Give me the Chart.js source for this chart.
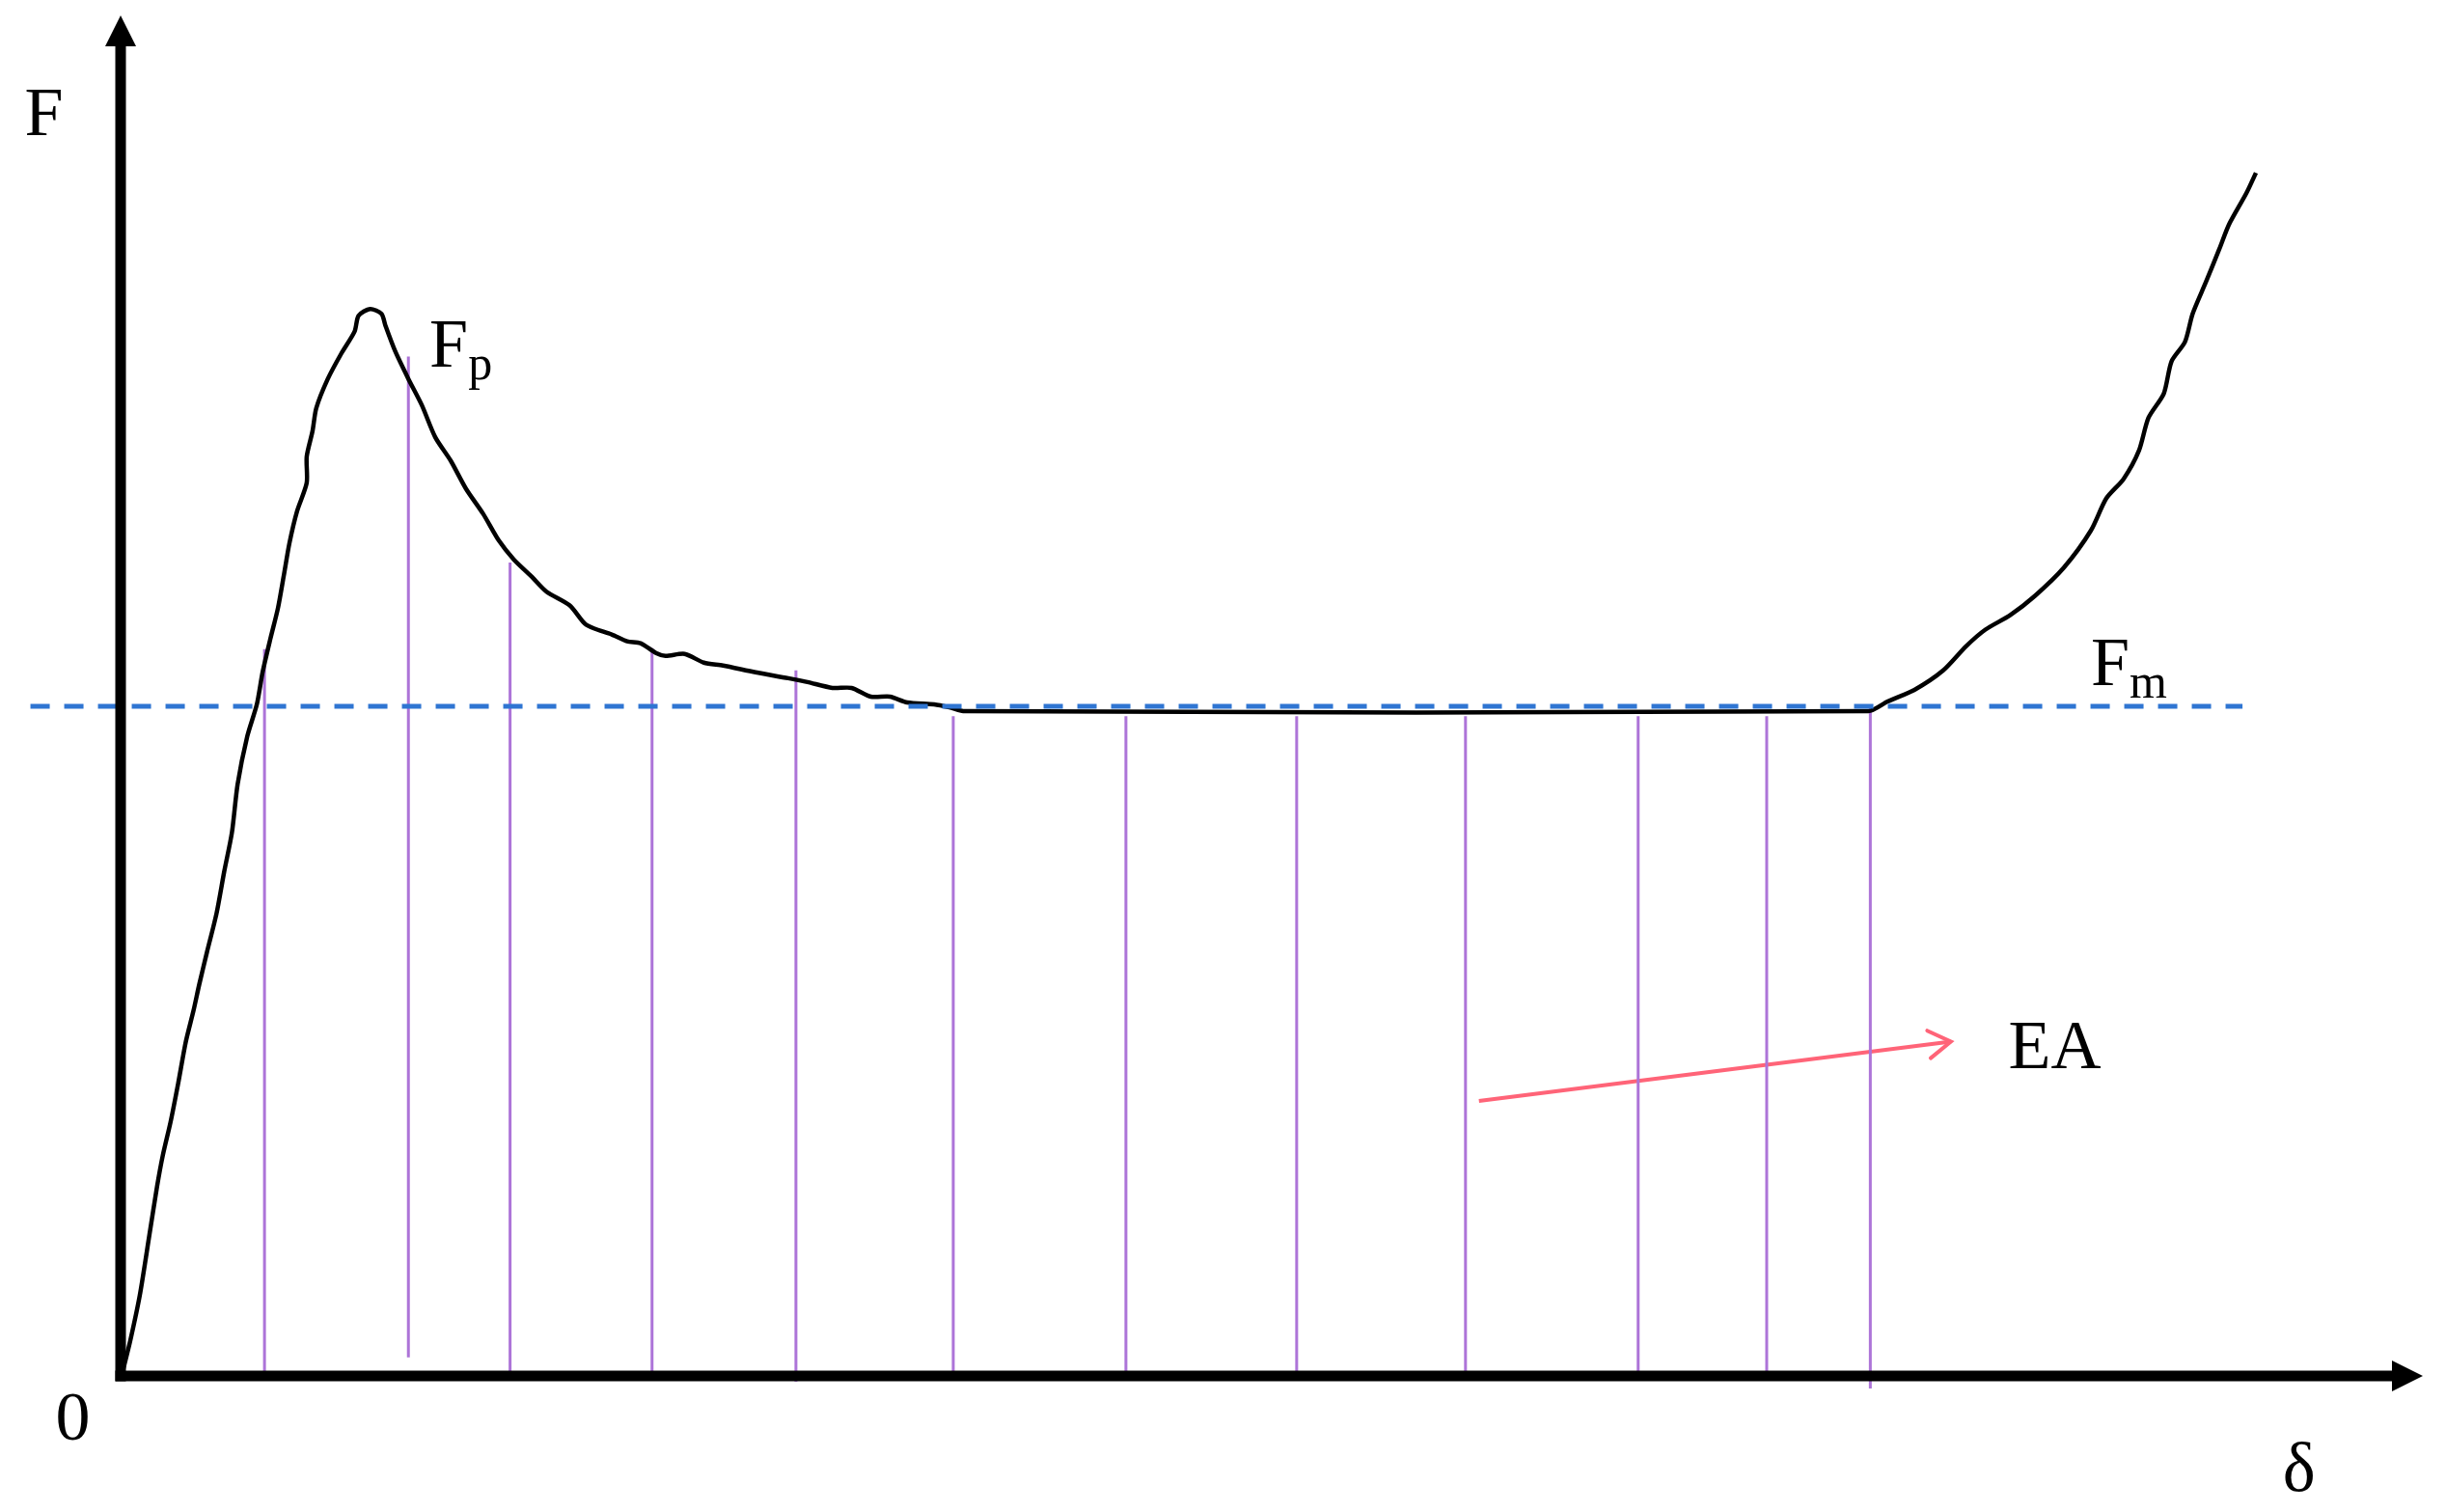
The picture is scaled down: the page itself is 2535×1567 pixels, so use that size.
<!DOCTYPE html>
<html>
<head>
<meta charset="utf-8">
<title>F - δ curve</title>
<script src="https://cdn.jsdelivr.net/npm/chart.js@4.4.0/dist/chart.umd.min.js"></script>
<style>
  html, body { margin: 0; padding: 0; background: #fff; }
  canvas { display: block; }
</style>
</head>
<body>
<canvas id="chart" width="2535" height="1567"></canvas>
<script>
// crushing curve (delta, force in arbitrary units)
const curveDelta = [0.1, 0.5, 1.0, 1.5, 1.9, 2.2, 2.6, 3.0, 3.4, 3.8, 4.1, 4.5, 5.0, 5.4, 5.8, 6.1, 6.6, 7.1, 7.4, 7.8,
  8.2, 8.5, 8.8, 9.2, 9.7, 9.7, 10.0, 10.2, 10.8, 11.5, 12.2, 12.4, 13.0, 13.6, 13.8, 14.3, 15.0, 15.7, 16.4, 17.2,
  18.0, 18.9, 19.7, 20.5, 21.4, 22.2, 23.4, 24.2, 24.7, 25.6, 26.4, 27.1, 27.9, 28.4, 29.4, 30.4, 31.4, 33.1, 34.8, 35.8,
  37.1, 38.1, 39.1, 40.1, 41.0, 42.4, 43.2, 44.0, 91.1, 92.1, 93.5, 95.0, 96.2, 97.2, 98.5, 99.8, 101.3, 102.7, 103.5, 104.4,
  105.2, 105.7, 106.5, 106.9, 107.6, 108.0, 108.7, 109.4, 109.9, 110.8, 111.3];
const curveForce = [0.4, 3.6, 8.3, 14.5, 19.5, 22.7, 26.1, 30.1, 34.4, 37.6, 40.3, 43.6, 47.6, 51.9, 55.9, 60.9, 65.8, 69.1, 72.4, 75.8,
  79.0, 82.3, 85.7, 89.0, 91.9, 94.6, 97.2, 99.6, 102.6, 105.2, 107.5, 109.1, 109.8, 109.3, 108.1, 105.5, 102.6, 99.9, 96.6, 94.2,
  91.3, 88.7, 86.0, 84.0, 82.3, 80.7, 79.3, 77.4, 76.9, 76.3, 75.6, 75.4, 74.4, 74.1, 74.3, 73.4, 73.1, 72.4, 71.8, 71.4,
  70.8, 70.8, 69.9, 69.9, 69.3, 69.1, 68.8, 68.4, 68.4, 69.4, 70.6, 72.6, 75.1, 76.8, 78.3, 80.3, 83.2, 87.0, 90.3, 92.3,
  95.2, 98.6, 101.1, 104.4, 106.4, 109.3, 112.6, 116.0, 118.5, 121.7, 123.8];

// vertical strips under the curve (energy absorption)
const stripDelta = [7.5, 15.0, 20.3, 27.7, 35.2, 43.4, 52.4, 61.3, 70.1, 79.1, 85.8, 91.2];
const stripTop = [74.8, 104.9, 83.7, 74.9, 72.6, 67.9, 67.9, 67.9, 67.9, 67.9, 67.9, 68.8];
const stripBase = [0, 1.9, 0, 0, -0.6, 0, 0, 0, 0, 0, 0, -1.3];

// mean force level Fm
const fmLevel = 68.9;
const fmSpan = [-4.7, 110.6];

// EA pointer
const eaDelta = [70.8, 95.4];
const eaForce = [28.3, 34.4];

const curveData = curveDelta.map((d, i) => ({ x: d, y: curveForce[i] }));

const stripData = [];
stripDelta.forEach((d, i) => {
  stripData.push({ x: d, y: stripBase[i] });
  stripData.push({ x: d, y: stripTop[i] });
  stripData.push({ x: d, y: null }); // break between strips
});

const fmData = fmSpan.map((d) => ({ x: d, y: fmLevel }));
const eaData = eaDelta.map((d, i) => ({ x: d, y: eaForce[i] }));

const serif = '"Liberation Serif", "DejaVu Serif", serif';

// axes with arrow heads and the text labels
const sketchPlugin = {
  id: "sketch",
  afterDatasetsDraw(chart) {
    const ctx = chart.ctx;
    const xs = chart.scales.x;
    const ys = chart.scales.y;
    const px = (v) => xs.getPixelForValue(v);
    const py = (v) => ys.getPixelForValue(v);
    const x0 = px(0);
    const y0 = py(0);
    const xEnd = px(xs.max);
    const yEnd = py(ys.max);

    ctx.save();
    ctx.strokeStyle = "#000";
    ctx.fillStyle = "#000";
    ctx.lineWidth = 11;

    // y axis
    ctx.beginPath();
    ctx.moveTo(x0, y0 + 5.5);
    ctx.lineTo(x0, yEnd + 28);
    ctx.stroke();
    ctx.beginPath();
    ctx.moveTo(x0, yEnd);
    ctx.lineTo(x0 - 16, yEnd + 32);
    ctx.lineTo(x0 + 16, yEnd + 32);
    ctx.closePath();
    ctx.fill();

    // x axis
    ctx.beginPath();
    ctx.moveTo(x0 - 5.5, y0);
    ctx.lineTo(xEnd - 28, y0);
    ctx.stroke();
    ctx.beginPath();
    ctx.moveTo(xEnd, y0);
    ctx.lineTo(xEnd - 32, y0 - 16);
    ctx.lineTo(xEnd - 32, y0 + 16);
    ctx.closePath();
    ctx.fill();

    // EA arrow head
    const meta = chart.getDatasetMeta(3);
    const a = meta.data[0];
    const b = meta.data[1];
    const ang = Math.atan2(b.y - a.y, b.x - a.x);
    const arm = 27;
    const spread = (32 * Math.PI) / 180;
    ctx.strokeStyle = "#ff6478";
    ctx.lineWidth = 4;
    ctx.lineCap = "round";
    ctx.beginPath();
    ctx.moveTo(b.x - arm * Math.cos(ang - spread), b.y - arm * Math.sin(ang - spread));
    ctx.lineTo(b.x, b.y);
    ctx.lineTo(b.x - arm * Math.cos(ang + spread), b.y - arm * Math.sin(ang + spread));
    ctx.stroke();

    // labels
    ctx.fillStyle = "#000";
    ctx.textAlign = "left";
    ctx.textBaseline = "alphabetic";
    ctx.font = "72px " + serif;
    ctx.fillText("F", px(-5.0), py(127.7));
    ctx.fillText("0", px(-3.4), py(-6.6));
    ctx.fillText("δ", px(112.7), py(-11.8));
    ctx.fillText("EA", px(98.4), py(31.7));

    // F with subscript
    function subLabel(main, sub, d, f) {
      ctx.font = "72px " + serif;
      const x = px(d);
      const y = py(f);
      ctx.fillText(main, x, y);
      const w = ctx.measureText(main).width;
      ctx.font = "50px " + serif;
      ctx.fillText(sub, x + w, y + 13);
    }
    subLabel("F", "p", 16.1, 103.9);
    subLabel("F", "m", 102.7, 71.1);

    ctx.restore();
  },
};

new Chart(document.getElementById("chart"), {
  type: "scatter",
  data: {
    datasets: [
      {
        label: "F",
        data: curveData,
        showLine: true,
        borderColor: "#000",
        borderWidth: 4.5,
        pointRadius: 0,
        tension: 0.25,
        order: 3,
      },
      {
        label: "Fm",
        data: fmData,
        showLine: true,
        borderColor: "#2f75d2",
        borderWidth: 5,
        borderDash: [20, 15],
        pointRadius: 0,
        clip: false,
        order: 1,
      },
      {
        label: "strips",
        data: stripData,
        showLine: true,
        spanGaps: false,
        borderColor: "#ad74d8",
        borderWidth: 3,
        pointRadius: 0,
        clip: false,
        order: 4,
      },
      {
        label: "EA",
        data: eaData,
        showLine: true,
        borderColor: "#ff6478",
        borderWidth: 4,
        pointRadius: 0,
        order: 5,
      },
    ],
  },
  options: {
    responsive: false,
    animation: false,
    events: [],
    layout: {
      padding: { left: 125, right: 24, top: 16, bottom: 141 },
    },
    scales: {
      x: { type: "linear", min: 0, max: 120, display: false },
      y: { type: "linear", min: 0, max: 140, display: false },
    },
    plugins: {
      legend: { display: false },
      tooltip: { enabled: false },
    },
  },
  plugins: [sketchPlugin],
});
</script>
</body>
</html>
